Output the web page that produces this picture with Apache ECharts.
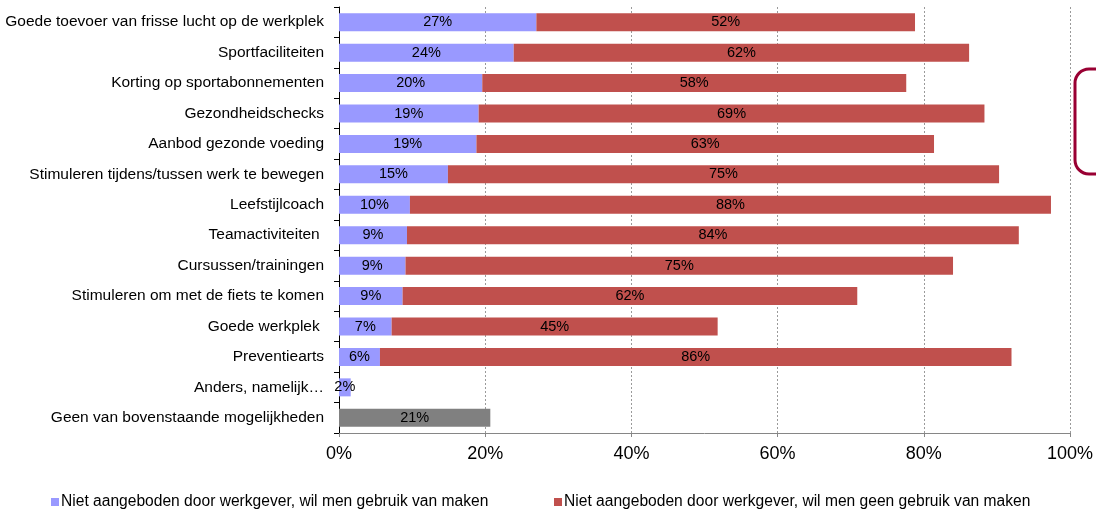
<!DOCTYPE html>
<html><head><meta charset="utf-8">
<script src="https://cdn.jsdelivr.net/npm/echarts@6/dist/echarts.min.js"></script>
<style>html,body{margin:0;padding:0;background:#fff}#c{width:1096px;height:509px}</style>
</head><body><div id="c"></div>
<script>
const categories = ['Goede toevoer van frisse lucht op de werkplek','Sportfaciliteiten','Korting op sportabonnementen','Gezondheidschecks','Aanbod gezonde voeding','Stimuleren tijdens/tussen werk te bewegen','Leefstijlcoach','Teamactiviteiten ','Cursussen/trainingen','Stimuleren om met de fiets te komen','Goede werkplek ','Preventiearts','Anders, namelijk…','Geen van bovenstaande mogelijkheden'];
const wilGebruik = [27.0, 23.9, 19.6, 19.1, 18.8, 14.9, 9.7, 9.3, 9.1, 8.7, 7.2, 5.6, 1.6, null];
const geenGebruik = [51.8, 62.3, 58.0, 69.2, 62.6, 75.4, 87.7, 83.7, 74.9, 62.2, 44.6, 86.4, null, null];
const geenVan = [null, null, null, null, null, null, null, null, null, null, null, null, null, 20.7];
const xTicks = [0, 20, 40, 60, 80, 100];
const seriesNames = ['Niet aangeboden door werkgever, wil men gebruik van maken','Niet aangeboden door werkgever, wil men geen gebruik van maken'];

const font = 'Liberation Sans, Arial, sans-serif';
const lbl = {show:true, position:'inside', color:'#000', fontSize:14.5, fontFamily:font,
  formatter: p => p.value == null ? '' : Math.round(p.value) + '%'};
const chart = echarts.init(document.getElementById('c'));
chart.setOption({
  animation:false,
  grid:{left:339, right:22, top:7, bottom:76, containLabel:false},
  xAxis:{type:'value', min:xTicks[0], max:xTicks[xTicks.length-1], interval:20,
    axisLine:{show:true, lineStyle:{color:'#868686', width:1}},
    axisTick:{show:true, length:4, lineStyle:{color:'#868686'}},
    axisLabel:{formatter:'{value}%', color:'#000', fontSize:18, fontFamily:font, margin:12},
    splitLine:{show:true, lineStyle:{color:'#9a9a9a', type:[2,2], width:1}}},
  yAxis:{type:'category', data:categories, inverse:true,
    axisLine:{show:true, lineStyle:{color:'#000', width:1}},
    axisTick:{show:true, length:5, inside:false, lineStyle:{color:'#000'}},
    axisLabel:{color:'#000', fontSize:15.5, fontFamily:font, margin:15, interval:0}},
  legend:[
    {data:[seriesNames[0]], left:46, top:489, itemWidth:8, itemHeight:8, itemGap:0, icon:'rect',
      textStyle:{color:'#000', fontSize:15.6, fontFamily:font, padding:[0,0,0,-3]}},
    {data:[seriesNames[1]], left:549, top:489, itemWidth:8, itemHeight:8, itemGap:0, icon:'rect',
      textStyle:{color:'#000', fontSize:15.6, fontFamily:font, padding:[0,0,0,-3]}}
  ],
  graphic:[{type:'rect', shape:{x:1075, y:69, width:60, height:105, r:14},
    style:{fill:'none', stroke:'#990033', lineWidth:3}}],
  series:[
    {name:seriesNames[0], type:'bar', stack:'s', data:wilGebruik, barWidth:18,
      itemStyle:{color:'#9999FF'}, label:lbl},
    {name:seriesNames[1], type:'bar', stack:'s', data:geenGebruik, barWidth:18,
      itemStyle:{color:'#C0504D'}, label:lbl},
    {name:'Geen', type:'bar', stack:'s', data:geenVan, barWidth:18,
      itemStyle:{color:'#808080'}, label:lbl}
  ]
});
</script></body></html>
